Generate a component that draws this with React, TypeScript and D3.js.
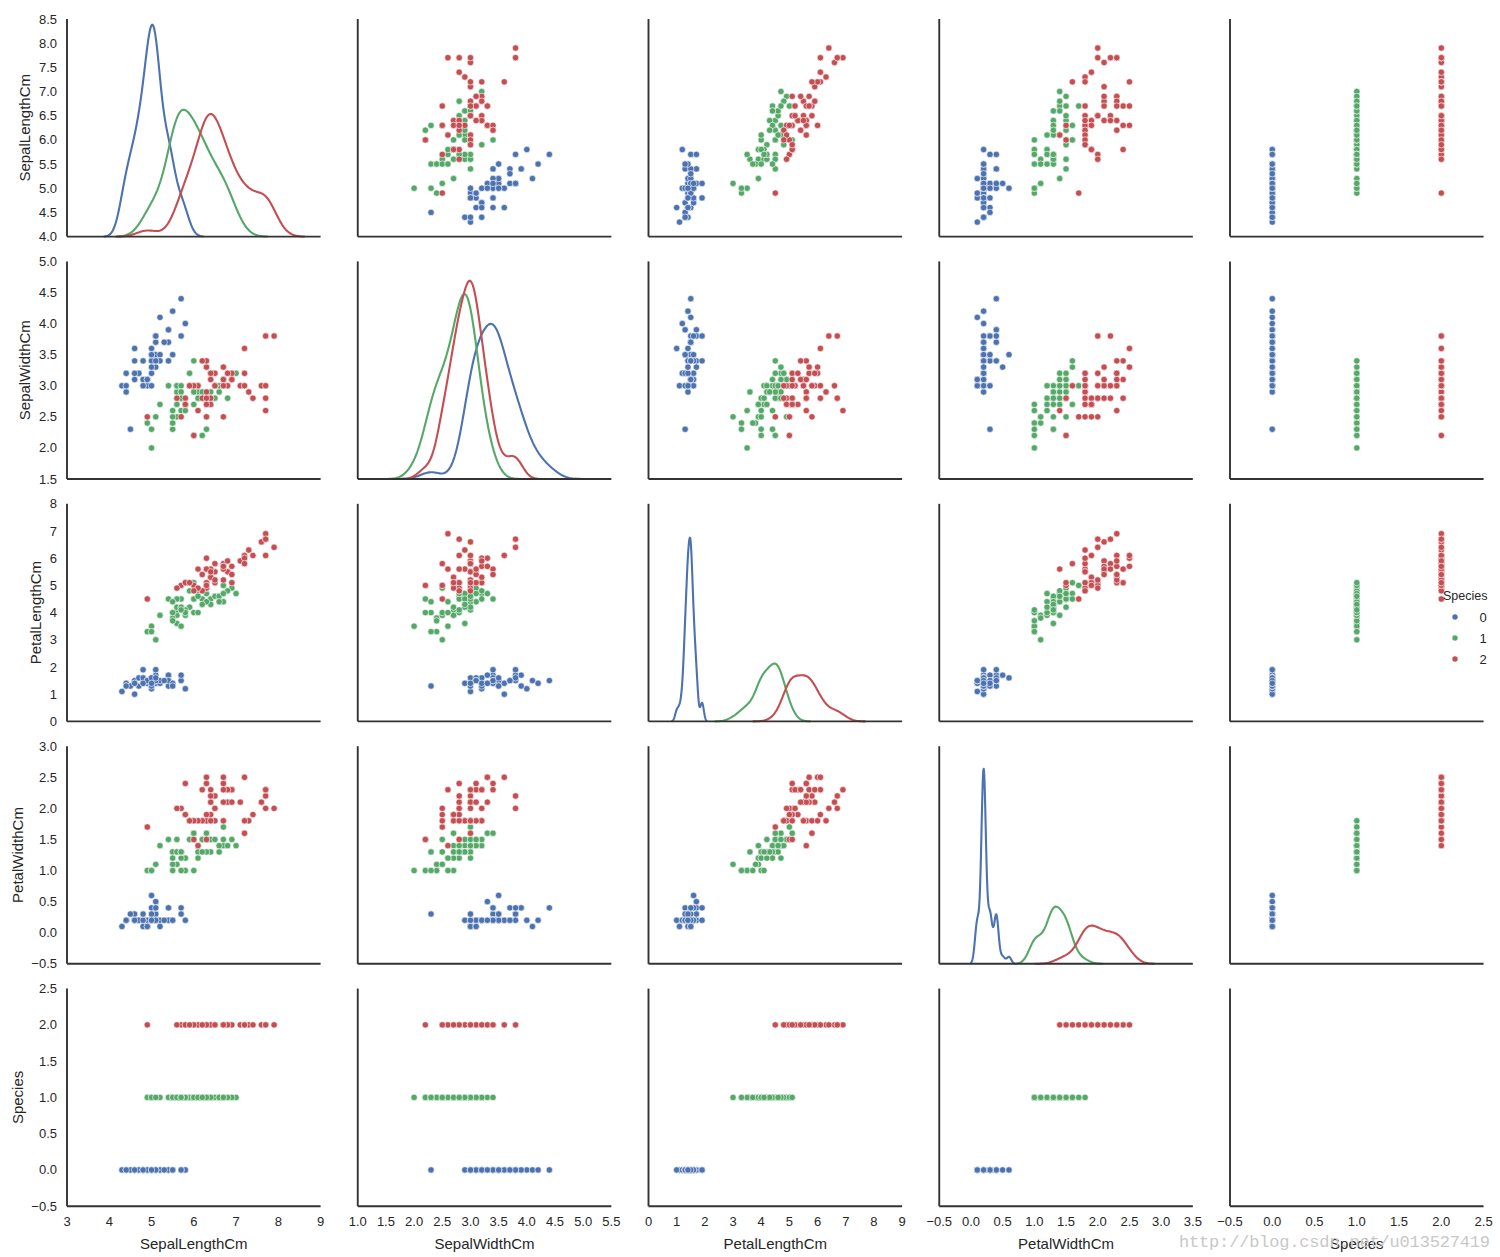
import { useEffect, useRef } from 'react';
import * as d3 from 'd3';

// iris measurements, in dataset order (50 setosa, 50 versicolor, 50 virginica)
const sepalLength = [
  5.1, 4.9, 4.7, 4.6, 5.0, 5.4, 4.6, 5.0, 4.4, 4.9, 5.4, 4.8, 4.8, 4.3, 5.8, 5.7, 5.4, 5.1, 5.7, 5.1, 5.4, 5.1, 4.6, 5.1, 4.8,
  5.0, 5.0, 5.2, 5.2, 4.7, 4.8, 5.4, 5.2, 5.5, 4.9, 5.0, 5.5, 4.9, 4.4, 5.1, 5.0, 4.5, 4.4, 5.0, 5.1, 4.8, 5.1, 4.6, 5.3, 5.0,
  7.0, 6.4, 6.9, 5.5, 6.5, 5.7, 6.3, 4.9, 6.6, 5.2, 5.0, 5.9, 6.0, 6.1, 5.6, 6.7, 5.6, 5.8, 6.2, 5.6, 5.9, 6.1, 6.3, 6.1, 6.4,
  6.6, 6.8, 6.7, 6.0, 5.7, 5.5, 5.5, 5.8, 6.0, 5.4, 6.0, 6.7, 6.3, 5.6, 5.5, 5.5, 6.1, 5.8, 5.0, 5.6, 5.7, 5.7, 6.2, 5.1, 5.7,
  6.3, 5.8, 7.1, 6.3, 6.5, 7.6, 4.9, 7.3, 6.7, 7.2, 6.5, 6.4, 6.8, 5.7, 5.8, 6.4, 6.5, 7.7, 7.7, 6.0, 6.9, 5.6, 7.7, 6.3, 6.7,
  7.2, 6.2, 6.1, 6.4, 7.2, 7.4, 7.9, 6.4, 6.3, 6.1, 7.7, 6.3, 6.4, 6.0, 6.9, 6.7, 6.9, 5.8, 6.8, 6.7, 6.7, 6.3, 6.5, 6.2, 5.9,
];
const sepalWidth = [
  3.5, 3.0, 3.2, 3.1, 3.6, 3.9, 3.4, 3.4, 2.9, 3.1, 3.7, 3.4, 3.0, 3.0, 4.0, 4.4, 3.9, 3.5, 3.8, 3.8, 3.4, 3.7, 3.6, 3.3, 3.4,
  3.0, 3.4, 3.5, 3.4, 3.2, 3.1, 3.4, 4.1, 4.2, 3.1, 3.2, 3.5, 3.1, 3.0, 3.4, 3.5, 2.3, 3.2, 3.5, 3.8, 3.0, 3.8, 3.2, 3.7, 3.3,
  3.2, 3.2, 3.1, 2.3, 2.8, 2.8, 3.3, 2.4, 2.9, 2.7, 2.0, 3.0, 2.2, 2.9, 2.9, 3.1, 3.0, 2.7, 2.2, 2.5, 3.2, 2.8, 2.5, 2.8, 2.9,
  3.0, 2.8, 3.0, 2.9, 2.6, 2.4, 2.4, 2.7, 2.7, 3.0, 3.4, 3.1, 2.3, 3.0, 2.5, 2.6, 3.0, 2.6, 2.3, 2.7, 3.0, 2.9, 2.9, 2.5, 2.8,
  3.3, 2.7, 3.0, 2.9, 3.0, 3.0, 2.5, 2.9, 2.5, 3.6, 3.2, 2.7, 3.0, 2.5, 2.8, 3.2, 3.0, 3.8, 2.6, 2.2, 3.2, 2.8, 2.8, 2.7, 3.3,
  3.2, 2.8, 3.0, 2.8, 3.0, 2.8, 3.8, 2.8, 2.8, 2.6, 3.0, 3.4, 3.1, 3.0, 3.1, 3.1, 3.1, 2.7, 3.2, 3.3, 3.0, 2.5, 3.0, 3.4, 3.0,
];
const petalLength = [
  1.4, 1.4, 1.3, 1.5, 1.4, 1.7, 1.4, 1.5, 1.4, 1.5, 1.5, 1.6, 1.4, 1.1, 1.2, 1.5, 1.3, 1.4, 1.7, 1.5, 1.7, 1.5, 1.0, 1.7, 1.9,
  1.6, 1.6, 1.5, 1.4, 1.6, 1.6, 1.5, 1.5, 1.4, 1.5, 1.2, 1.3, 1.5, 1.3, 1.5, 1.3, 1.3, 1.3, 1.6, 1.9, 1.4, 1.6, 1.4, 1.5, 1.4,
  4.7, 4.5, 4.9, 4.0, 4.6, 4.5, 4.7, 3.3, 4.6, 3.9, 3.5, 4.2, 4.0, 4.7, 3.6, 4.4, 4.5, 4.1, 4.5, 3.9, 4.8, 4.0, 4.9, 4.7, 4.3,
  4.4, 4.8, 5.0, 4.5, 3.5, 3.8, 3.7, 3.9, 5.1, 4.5, 4.5, 4.7, 4.4, 4.1, 4.0, 4.4, 4.6, 4.0, 3.3, 4.2, 4.2, 4.2, 4.3, 3.0, 4.1,
  6.0, 5.1, 5.9, 5.6, 5.8, 6.6, 4.5, 6.3, 5.8, 6.1, 5.1, 5.3, 5.5, 5.0, 5.1, 5.3, 5.5, 6.7, 6.9, 5.0, 5.7, 4.9, 6.7, 4.9, 5.7,
  6.0, 4.8, 4.9, 5.6, 5.8, 6.1, 6.4, 5.6, 5.1, 5.6, 6.1, 5.6, 5.5, 4.8, 5.4, 5.6, 5.1, 5.1, 5.9, 5.7, 5.2, 5.0, 5.2, 5.4, 5.1,
];
const petalWidth = [
  0.2, 0.2, 0.2, 0.2, 0.2, 0.4, 0.3, 0.2, 0.2, 0.1, 0.2, 0.2, 0.1, 0.1, 0.2, 0.4, 0.4, 0.3, 0.3, 0.3, 0.2, 0.4, 0.2, 0.5, 0.2,
  0.2, 0.4, 0.2, 0.2, 0.2, 0.2, 0.4, 0.1, 0.2, 0.1, 0.2, 0.2, 0.1, 0.2, 0.2, 0.3, 0.3, 0.2, 0.6, 0.4, 0.3, 0.2, 0.2, 0.2, 0.2,
  1.4, 1.5, 1.5, 1.3, 1.5, 1.3, 1.6, 1.0, 1.3, 1.4, 1.0, 1.5, 1.0, 1.4, 1.3, 1.4, 1.5, 1.0, 1.5, 1.1, 1.8, 1.3, 1.5, 1.2, 1.3,
  1.4, 1.4, 1.7, 1.5, 1.0, 1.1, 1.0, 1.2, 1.6, 1.5, 1.6, 1.5, 1.3, 1.3, 1.3, 1.2, 1.4, 1.2, 1.0, 1.3, 1.2, 1.3, 1.3, 1.1, 1.3,
  2.5, 1.9, 2.1, 1.8, 2.2, 2.1, 1.7, 1.8, 1.8, 2.5, 2.0, 1.9, 2.1, 2.0, 2.4, 2.3, 1.8, 2.2, 2.3, 1.5, 2.3, 2.0, 2.0, 1.8, 2.1,
  1.8, 1.8, 1.8, 2.1, 1.6, 1.9, 2.0, 2.2, 1.5, 1.4, 2.3, 2.4, 1.8, 1.8, 2.1, 2.4, 2.3, 1.9, 2.3, 2.5, 2.3, 1.9, 2.0, 2.3, 1.8,
];
const species = [
  0, 0, 0, 0, 0, 0, 0, 0, 0, 0, 0, 0, 0, 0, 0, 0, 0, 0, 0, 0, 0, 0, 0, 0, 0, 0, 0, 0, 0, 0, 0, 0, 0, 0, 0, 0, 0, 0, 0, 0, 0, 0, 0, 0, 0, 0, 0, 0, 0, 0,
  1, 1, 1, 1, 1, 1, 1, 1, 1, 1, 1, 1, 1, 1, 1, 1, 1, 1, 1, 1, 1, 1, 1, 1, 1, 1, 1, 1, 1, 1, 1, 1, 1, 1, 1, 1, 1, 1, 1, 1, 1, 1, 1, 1, 1, 1, 1, 1, 1, 1,
  2, 2, 2, 2, 2, 2, 2, 2, 2, 2, 2, 2, 2, 2, 2, 2, 2, 2, 2, 2, 2, 2, 2, 2, 2, 2, 2, 2, 2, 2, 2, 2, 2, 2, 2, 2, 2, 2, 2, 2, 2, 2, 2, 2, 2, 2, 2, 2, 2, 2,
];

const varNames = ['SepalLengthCm', 'SepalWidthCm', 'PetalLengthCm', 'PetalWidthCm', 'Species'];
const speciesLevels = ['0', '1', '2'];

// tick values on the left axes (rows) and bottom axes (columns)
const rowTicks = [
  [4.0, 4.5, 5.0, 5.5, 6.0, 6.5, 7.0, 7.5, 8.0, 8.5],
  [1.5, 2.0, 2.5, 3.0, 3.5, 4.0, 4.5, 5.0],
  [0, 1, 2, 3, 4, 5, 6, 7, 8],
  [-0.5, 0.0, 0.5, 1.0, 1.5, 2.0, 2.5, 3.0],
  [-0.5, 0.0, 0.5, 1.0, 1.5, 2.0, 2.5],
];
const colTicks = [
  [3, 4, 5, 6, 7, 8, 9],
  [1.0, 1.5, 2.0, 2.5, 3.0, 3.5, 4.0, 4.5, 5.0, 5.5],
  [0, 1, 2, 3, 4, 5, 6, 7, 8, 9],
  [-0.5, 0.0, 0.5, 1.0, 1.5, 2.0, 2.5, 3.0, 3.5],
  [-0.5, 0.0, 0.5, 1.0, 1.5, 2.0, 2.5],
];

const palette = ['#4C72B0', '#55A868', '#C44E52'];
const FONT = '"Liberation Sans", Arial, sans-serif';
const INK = '#262626';

// statsmodels-style scott bandwidth
const scottBw = (v: number[]) => {
  const s = [...v].sort(d3.ascending);
  const n = s.length;
  const sd = d3.deviation(s) as number;
  const iqr = ((d3.quantileSorted(s, 0.75) as number) - (d3.quantileSorted(s, 0.25) as number)) / 1.349;
  return 1.059 * Math.min(sd, iqr) * Math.pow(n, -0.2);
};

const kde = (v: number[]) => {
  const bw = scottBw(v);
  const lo = (d3.min(v) as number) - 3 * bw;
  const hi = (d3.max(v) as number) + 3 * bw;
  const norm = v.length * bw * Math.sqrt(2 * Math.PI);
  return d3.range(100).map((k) => {
    const g = lo + (k * (hi - lo)) / 99;
    const dens = d3.sum(v, (xi) => Math.exp(-0.5 * ((g - xi) / bw) ** 2)) / norm;
    return [g, dens] as [number, number];
  });
};

// matplotlib classic autoscale: round the top up to a tick
const niceTop = (m: number) => {
  const raw = m / 9;
  const mag = Math.pow(10, Math.floor(Math.log10(raw)));
  const step = [1, 2, 5, 10].map((s) => s * mag).find((s) => s >= raw - 1e-12) as number;
  return Math.ceil(m / step - 1e-9) * step;
};

const fmtFor = (ticks: number[]) =>
  ticks.every((t) => Number.isInteger(t)) ? d3.format('d') : d3.format('.1f');

const PairPlot = () => {
  const ref = useRef<SVGSVGElement>(null);

  useEffect(() => {
    const width = 1500;
    const height = 1257;
    const left = 67;
    const top = 19;
    const colStep = 290.75;
    const rowStep = 242.4;
    const pw = 253.6;
    const ph = 217.6;

    const columns = [sepalLength, sepalWidth, petalLength, petalWidth, species];

    const svg = d3.select(ref.current).attr('width', width).attr('height', height);
    svg.selectAll('*').remove();
    svg.append('rect').attr('width', width).attr('height', height).attr('fill', '#fff');

    for (let i = 0; i < 5; i++) {
      for (let j = 0; j < 5; j++) {
        const g = svg.append('g').attr('transform', `translate(${left + j * colStep},${top + i * rowStep})`);
        const x = d3.scaleLinear().domain(d3.extent(colTicks[j]) as [number, number]).range([0, pw]);
        const y = d3.scaleLinear().domain(d3.extent(rowTicks[i]) as [number, number]).range([ph, 0]);

        if (i === j) {
          if (i < 4) {
            const curves = speciesLevels.map((_, s) => kde(columns[i].filter((_, k) => species[k] === s)));
            const peak = d3.max(curves.flat(), (d) => d[1]) as number;
            const yd = d3.scaleLinear().domain([0, niceTop(peak)]).range([ph, 0]);
            const line = d3.line<[number, number]>().x((d) => x(d[0])).y((d) => yd(d[1]));
            g.selectAll('.kde')
              .data(curves)
              .join('path')
              .attr('class', 'kde')
              .attr('d', (d) => line(d))
              .attr('fill', 'none')
              .attr('stroke', (_, s) => palette[s])
              .attr('stroke-width', 2.1)
              .attr('stroke-linejoin', 'round');
          }
        } else {
          g.selectAll('.dot')
            .data(d3.range(species.length))
            .join('circle')
            .attr('class', 'dot')
            .attr('cx', (k) => x(columns[j][k]))
            .attr('cy', (k) => y(columns[i][k]))
            .attr('r', 3.2)
            .attr('fill', (k) => palette[species[k]])
            .attr('stroke', '#fff')
            .attr('stroke-width', 0.6);
        }

        // despined: left + bottom only
        g.append('line').attr('x1', 0).attr('x2', 0).attr('y1', 0).attr('y2', ph)
          .attr('stroke', '#333').attr('stroke-width', 1.9);
        g.append('line').attr('x1', 0).attr('x2', pw).attr('y1', ph).attr('y2', ph)
          .attr('stroke', '#333').attr('stroke-width', 1.9);

        if (j === 0) {
          const fy = fmtFor(rowTicks[i]);
          g.selectAll('.ytick')
            .data(rowTicks[i])
            .join('text')
            .attr('class', 'ytick')
            .attr('x', -10)
            .attr('y', (d) => y(d))
            .attr('dy', '0.35em')
            .attr('text-anchor', 'end')
            .attr('font-family', FONT)
            .attr('font-size', 13)
            .attr('fill', INK)
            .text((d) => fy(d));
          const labels = g.selectAll<SVGTextElement, number>('.ytick').nodes();
          const maxW = d3.max(labels, (n) => n.getComputedTextLength()) as number;
          const bx = -10 - maxW - 8.5;
          g.append('text')
            .attr('transform', `translate(${bx},${ph / 2}) rotate(-90)`)
            .attr('text-anchor', 'middle')
            .attr('font-family', FONT)
            .attr('font-size', 15)
            .attr('fill', INK)
            .text(varNames[i]);
        }
        if (i === 4) {
          const fx = fmtFor(colTicks[j]);
          g.selectAll('.xtick')
            .data(colTicks[j])
            .join('text')
            .attr('class', 'xtick')
            .attr('x', (d) => x(d))
            .attr('y', ph + 20)
            .attr('text-anchor', 'middle')
            .attr('font-family', FONT)
            .attr('font-size', 13)
            .attr('fill', INK)
            .text((d) => fx(d));
          g.append('text')
            .attr('x', pw / 2)
            .attr('y', ph + 43)
            .attr('text-anchor', 'middle')
            .attr('font-family', FONT)
            .attr('font-size', 15)
            .attr('fill', INK)
            .text(varNames[j]);
        }
      }
    }

    // legend
    const lg = svg.append('g').attr('font-family', FONT).attr('fill', INK);
    lg.append('text').attr('x', 1443).attr('y', 600).attr('font-size', 12.5).text('Species');
    const items = lg.selectAll('.item')
      .data(speciesLevels)
      .join('g')
      .attr('class', 'item')
      .attr('transform', (_, s) => `translate(0,${617 + s * 21})`);
    items.append('circle').attr('cx', 1455).attr('cy', 0).attr('r', 2.7).attr('fill', (_, s) => palette[s]);
    items.append('text').attr('x', 1483).attr('y', 4.6).attr('text-anchor', 'middle').attr('font-size', 13).text((d) => d);

    // watermark
    svg.append('text')
      .attr('x', 1179)
      .attr('y', 1247)
      .attr('font-family', '"Liberation Mono", "DejaVu Sans Mono", monospace')
      .attr('font-size', 17)
      .attr('fill', '#c8c8c8')
      .attr('textLength', 311)
      .text('http://blog.csdn.net/u013527419');
  }, []);

  return (
    <div style={{ position: 'absolute', left: 0, top: 0 }}>
      <svg ref={ref} style={{ display: 'block' }}></svg>
    </div>
  );
};

export default function App() {
  return <PairPlot />;
}
